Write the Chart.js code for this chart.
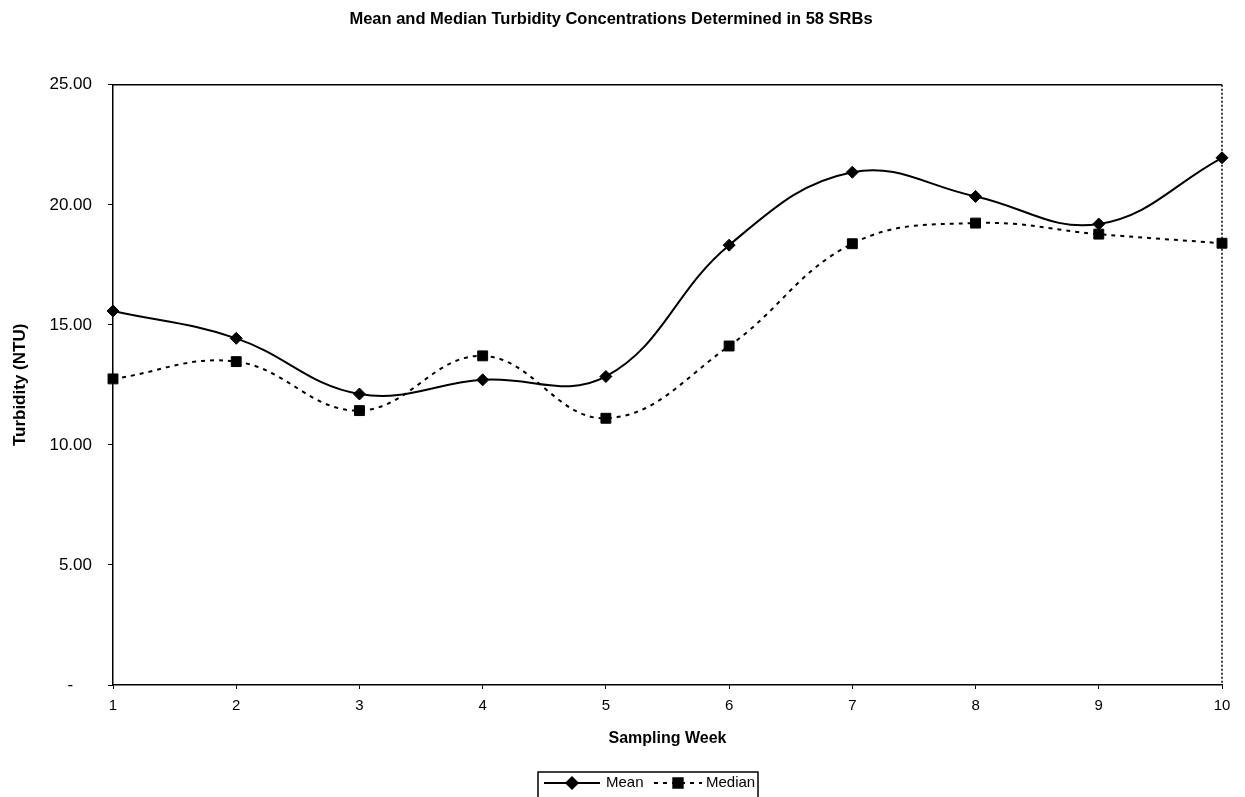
<!DOCTYPE html>
<html>
<head>
<meta charset="utf-8">
<script src="https://cdn.jsdelivr.net/npm/chart.js@4/dist/chart.umd.min.js"></script>
<style>
  html, body { margin: 0; padding: 0; background: #fff; }
  canvas { display: block; }
</style>
</head>
<body>
<canvas id="turbidityChart" width="1245" height="797"></canvas>
<script>
const weeks = ['1', '2', '3', '4', '5', '6', '7', '8', '9', '10'];
const meanValues = [15.58, 14.44, 12.12, 12.71, 12.85, 18.32, 21.36, 20.35, 19.20, 21.96];
const medianValues = [12.75, 13.47, 11.43, 13.71, 11.11, 14.12, 18.38, 19.24, 18.78, 18.40];
const yTicks = [0, 5, 10, 15, 20, 25];

const FONT = '"Liberation Sans", Arial, sans-serif';

/**
 * 上辺（実線）と右辺（点線）の枠
 */
const plotFramePlugin = {
  id: 'plotFrame',
  afterDraw(chart) {
    const { ctx, chartArea } = chart;
    ctx.save();
    ctx.strokeStyle = '#000';
    ctx.lineWidth = 1.5;
    ctx.beginPath();
    ctx.moveTo(chartArea.left, chartArea.top);
    ctx.lineTo(chartArea.right, chartArea.top);
    ctx.stroke();
    ctx.setLineDash([2, 2]);
    ctx.beginPath();
    ctx.moveTo(chartArea.right, chartArea.top);
    ctx.lineTo(chartArea.right, chartArea.bottom);
    ctx.stroke();
    ctx.restore();
  }
};

/**
 * 凡例（線＋マーカー、枠付き）
 */
const boxLegendPlugin = {
  id: 'boxLegend',
  afterDraw(chart) {
    const { ctx } = chart;
    const box = { left: 538, top: 772, right: 758, bottom: 800 };
    const midY = 783;
    ctx.save();
    ctx.strokeStyle = '#000';
    ctx.lineWidth = 1.5;
    ctx.strokeRect(box.left, box.top, box.right - box.left, box.bottom - box.top);

    ctx.font = '15px ' + FONT;
    ctx.fillStyle = '#000';
    ctx.textBaseline = 'middle';

    const entries = [
      { ds: chart.data.datasets[0], x0: 544, x1: 600, text: 'Mean', tx: 606 },
      { ds: chart.data.datasets[1], x0: 654, x1: 702, text: 'Median', tx: 706 }
    ];
    for (const e of entries) {
      ctx.save();
      ctx.lineWidth = e.ds.borderWidth;
      ctx.setLineDash(e.ds.borderDash || []);
      ctx.beginPath();
      ctx.moveTo(e.x0, midY);
      ctx.lineTo(e.x1, midY);
      ctx.stroke();
      ctx.restore();
      Chart.helpers.drawPoint(ctx, {
        pointStyle: e.ds.pointStyle,
        radius: e.ds.pointRadius,
        borderWidth: 1,
        rotation: 0
      }, (e.x0 + e.x1) / 2, midY);
      ctx.fillText(e.text, e.tx, midY);
    }
    ctx.restore();
  }
};

const ctx = document.getElementById('turbidityChart').getContext('2d');

new Chart(ctx, {
  type: 'line',
  data: {
    labels: weeks,
    datasets: [
      {
        label: 'Mean',
        data: meanValues,
        borderColor: '#000',
        backgroundColor: '#000',
        borderWidth: 2,
        tension: 0.4,
        pointStyle: 'rectRot',
        pointRadius: 6,
        pointBorderWidth: 1,
        fill: false
      },
      {
        label: 'Median',
        data: medianValues,
        borderColor: '#000',
        backgroundColor: '#000',
        borderWidth: 2,
        borderDash: [4, 5],
        tension: 0.4,
        pointStyle: 'rect',
        pointRadius: 7,
        pointBorderWidth: 1,
        fill: false
      }
    ]
  },
  options: {
    responsive: false,
    animation: false,
    devicePixelRatio: 1,
    layout: { padding: { left: 0, right: 23, top: 0, bottom: 45 } },
    plugins: {
      legend: { display: false },
      tooltip: { enabled: false },
      title: {
        display: true,
        text: 'Mean and Median Turbidity Concentrations Determined in 58 SRBs',
        color: '#000',
        font: { family: FONT, size: 16.5, weight: 'bold', lineHeight: 1.2 },
        padding: { top: 10, bottom: 55 }
      }
    },
    scales: {
      x: {
        type: 'category',
        offset: false,
        afterFit(scale) { scale.height = 67; },
        grid: { drawOnChartArea: false, drawTicks: true, tickLength: 4, color: '#000' },
        border: { display: true, color: '#000', width: 1.5 },
        ticks: { color: '#000', padding: 8, font: { family: FONT, size: 15 }, maxRotation: 0 },
        title: {
          display: true,
          text: 'Sampling Week',
          color: '#000',
          font: { family: FONT, size: 16, weight: 'bold', lineHeight: 1.2 },
          padding: { top: 0, bottom: 4 }
        }
      },
      y: {
        min: 0,
        max: 25,
        afterFit(scale) { scale.width = 113; },
        afterBuildTicks(scale) { scale.ticks = yTicks.map(v => ({ value: v })); },
        grid: { drawOnChartArea: false, drawTicks: true, tickLength: 5, color: '#000' },
        border: { display: true, color: '#000', width: 1.5 },
        ticks: {
          color: '#000',
          padding: 16,
          font: { family: FONT, size: 17 },
          callback: value => value === 0 ? '-    ' : value.toFixed(2)
        },
        title: {
          display: true,
          text: 'Turbidity (NTU)',
          color: '#000',
          font: { family: FONT, size: 17, weight: 'bold', lineHeight: 1.2 },
          padding: { top: 10, bottom: 0 }
        }
      }
    }
  },
  plugins: [plotFramePlugin, boxLegendPlugin]
});
</script>
</body>
</html>
